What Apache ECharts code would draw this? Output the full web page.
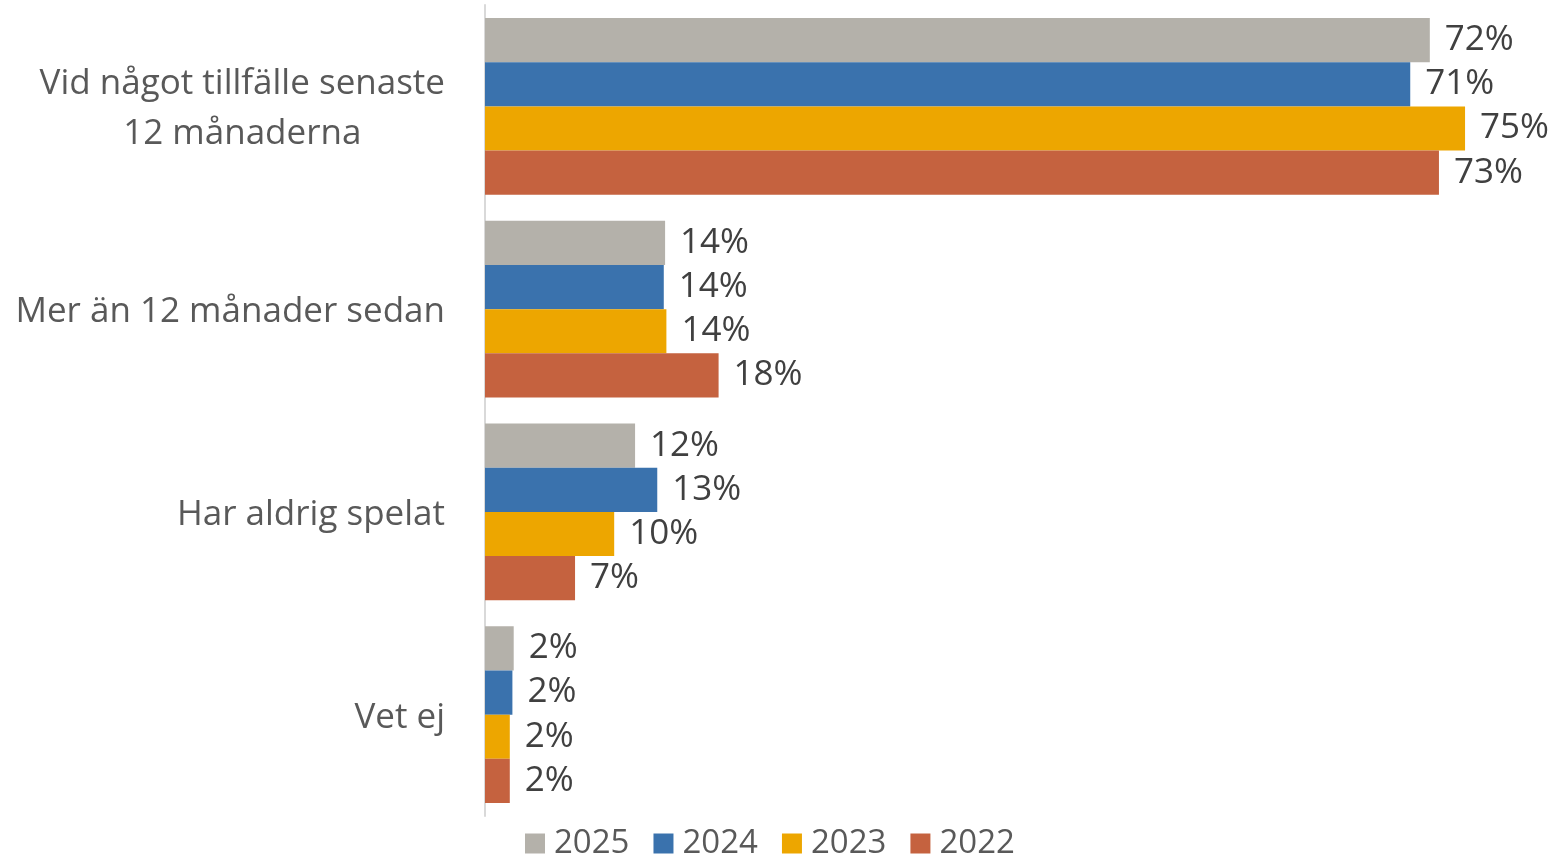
<!DOCTYPE html>
<html>
<head>
<meta charset="utf-8">
<script src="https://cdn.jsdelivr.net/npm/echarts@6/dist/echarts.min.js"></script>
<style>
  html, body { margin: 0; padding: 0; background: #fff; }
  #main { width: 1555px; height: 857px; }
</style>
</head>
<body>
<div id="main"></div>
<script>
var categories = ['Vid något tillfälle senaste 12 månaderna', 'Mer än 12 månader sedan', 'Har aldrig spelat', 'Vet ej'];
var years = ['2025', '2024', '2023', '2022'];
var colors = ['#b4b1aa', '#3a72ad', '#eda600', '#c5623f'];

var values2025 = [72.4, 13.8, 11.5, 2.2];
var values2024 = [70.9, 13.7, 13.2, 2.1];
var values2023 = [75.1, 13.9, 9.9, 1.9];
var values2022 = [73.1, 17.9, 6.9, 1.9];

var seriesValues = [values2025, values2024, values2023, values2022];

var myChart = echarts.init(document.getElementById('main'));

var font = '"Open Sans", sans-serif';

var option = {
	animation: false,
	grid: {
		left: 485,
		width: 1044,
		top: 5,
		bottom: 41
	},
	xAxis: {
		type: 'value',
		min: 0,
		max: 80,
		show: false
	},
	yAxis: {
		type: 'category',
		inverse: true,
		data: categories,
		axisLine: { show: true, lineStyle: { color: '#d9d9d9', width: 2 } },
		axisTick: { show: false },
		axisLabel: {
			margin: 40,
			align: 'right',
			fontFamily: font,
			fontSize: 35,
			color: '#595959',
			lineHeight: 50,
			padding: [6, 0, 0, 0],
			formatter: function (v) {
				if (v.indexOf('senaste 12') > -1) {
					return '{c|Vid något tillfälle senaste}\n{c|12 månaderna}';
				}
				return v;
			},
			rich: {
				c: { align: 'center', fontFamily: font, fontSize: 35, color: '#595959', lineHeight: 50 }
			}
		}
	},
	legend: {
		bottom: -8,
		left: 520,
		itemWidth: 20,
		itemHeight: 20,
		itemGap: 24,
		icon: 'rect',
		textStyle: { fontFamily: font, fontSize: 33, color: '#595959', padding: [0, 0, 0, 4] },
		data: years
	},
	series: years.map(function (y, i) {
		return {
			name: y,
			type: 'bar',
			data: seriesValues[i],
			barGap: '0%',
			barCategoryGap: '12.8%',
			itemStyle: { color: colors[i] },
			label: {
				show: true,
				position: 'right',
				distance: 15,
				fontFamily: font,
				fontSize: 35,
				color: '#404040',
				padding: [6, 0, 0, 0],
				formatter: function (p) { return Math.round(p.value) + '%'; }
			}
		};
	})
};
myChart.setOption(option);
</script>
</body>
</html>
